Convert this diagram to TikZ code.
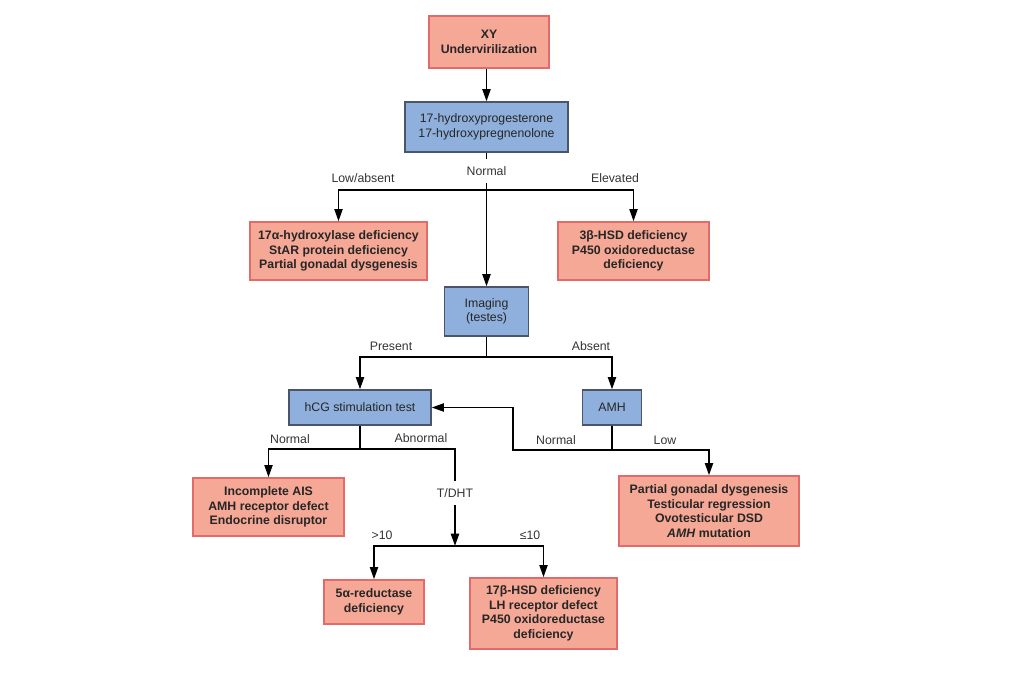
\documentclass[tikz,border=0pt]{standalone}
\usepackage{fontspec}
\setmainfont{Liberation Sans}
\usetikzlibrary{arrows.meta}
\definecolor{redfill}{RGB}{245,168,150}
\definecolor{redline}{RGB}{226,106,106}
\definecolor{bluefill}{RGB}{143,176,220}
\definecolor{blueline}{RGB}{75,85,105}
\tikzstyle{redbox}=[rectangle,draw=redline,fill=redfill,line width=0.8pt,align=center,font=\fontsize{7}{8.3}\selectfont\bfseries,text=black!85,inner sep=0pt]
\tikzstyle{bluebox}=[rectangle,draw=blueline,fill=bluefill,line width=0.7pt,align=center,font=\fontsize{7}{8.3}\selectfont,text=black!85,inner sep=0pt]
\tikzstyle{edge} = [draw,line width=1.1pt,-{Triangle[length=7pt,width=4.6pt]}]
\tikzstyle{plain} = [draw,line width=1.1pt]
\tikzstyle{branch} = [font=\fontsize{7}{8.3}\selectfont,text=black!80,inner sep=4pt]

\begin{document}
\begin{tikzpicture}[x=0.02cm, y=-0.02cm]

    \useasboundingbox (0,0) rectangle (1024,683);

     \foreach \x/\y/\w/\h/\name/\txt in {489/42/2.4/1.04/xy/{XY\\Undervirilization},
        338.5/251/3.54/1.16/lowres/{17α-hydroxylase deficiency\\StAR protein deficiency\\Partial gonadal dysgenesis},
        633.5/251/3.02/1.16/elevres/{3β-HSD deficiency\\P450 oxidoreductase\\deficiency},
        268.5/507/3.02/1.16/ais/{Incomplete AIS\\AMH receptor defect\\Endocrine disruptor},
        709/511/3.6/1.4/amhres/{Partial gonadal dysgenesis\\Testicular regression\\Ovotesticular DSD\\\textit{AMH} mutation},
        374/602/2.0/0.88/redfive/{5α-reductase\\deficiency},
        543.5/613.5/2.94/1.42/hsdseventeen/{17β-HSD deficiency\\LH receptor defect\\P450 oxidoreductase\\deficiency}}
        \node[redbox, minimum width=\w cm, minimum height=\h cm] (\name) at (\x,\y) {\txt};

     \foreach \x/\y/\w/\h/\name/\txt in {486.5/127/3.26/1.0/hyd/{17-hydroxyprogesterone\\17-hydroxypregnenolone},
        486.5/311.5/1.68/0.98/img/{Imaging\\(testes)},
        360/407.5/2.84/0.7/hcg/{hCG stimulation test},
        612/407.5/1.18/0.7/amh/{AMH}}
        \node[bluebox, minimum width=\w cm, minimum height=\h cm] (\name) at (\x,\y) {\txt};

     \foreach \x/\y/\name/\txt in {363/178/lowabs/{Low/absent}, 486.5/171/hydnormal/{Normal}, 615/178/elevated/{Elevated},
        391/346/present/{Present}, 591/346/absent/{Absent},
        290/439/hcgnormal/{Normal}, 421/438/abnormal/{Abnormal},
        556/440/amhnormal/{Normal}, 665/440/low/{Low},
        455/493/tdht/{T/DHT}, 382/535/gtten/{>10}, 530/535/leten/{≤10}}
        \node[branch] (\name) at (\x,\y) {\txt};

    % junctions
    \coordinate (jhyd) at (486.5,190);
    \coordinate (jimg) at (486.5,357);
    \coordinate (jamh) at (612,450);
    \coordinate (jback) at (513,450);
    \coordinate (jhcg) at (360,449);
    \coordinate (jt) at (455,546);

    \path[edge] (xy.south -| hyd) -- (hyd);

    \path[plain] (hyd) -- (hydnormal);
    \path[edge] (hydnormal) -- (img);
    \path[edge] (jhyd) -| (lowres);
    \path[edge] (jhyd) -| (elevres);

    \path[plain] (img) -- (jimg);
    \path[edge] (jimg) -| (hcg);
    \path[edge] (jimg) -| (amh);

    \path[plain] (amh) -- (jamh);
    \path[edge] (jamh) -| (amhres);
    \path[edge] (jamh) -- (jback) |- (hcg);

    \path[plain] (hcg) -- (jhcg);
    \path[edge] (jhcg) -| (ais);
    \path[plain] (jhcg) -| (tdht);
    \path[edge] (tdht) -- (jt);
    \path[edge] (jt) -| (redfive);
    \path[edge] (jt) -| (hsdseventeen);

\end{tikzpicture}
\end{document}
